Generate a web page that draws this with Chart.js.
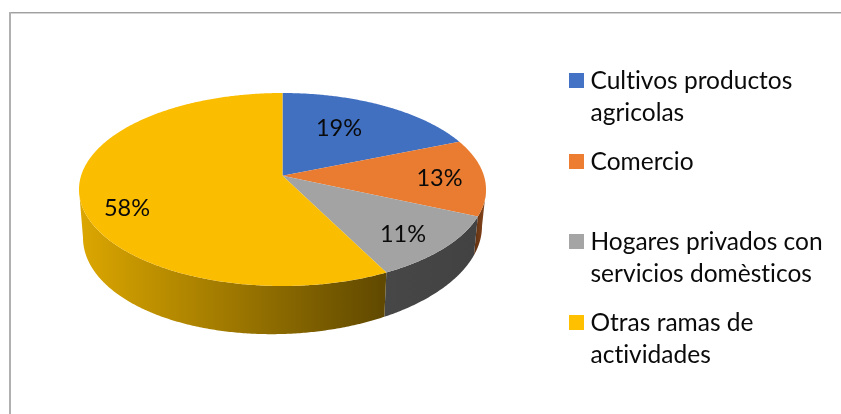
<!DOCTYPE html>
<html>
<head>
<meta charset="utf-8">
<style>
  html, body { margin: 0; padding: 0; background: #fff; }
  #wrap { position: relative; width: 841px; height: 414px; }
</style>
<script src="https://cdn.jsdelivr.net/npm/chart.js@4"></script>
</head>
<body>
<div id="wrap"><canvas id="pieChart" width="841" height="414"></canvas></div>
<script>
const categories = [
    ['Cultivos productos', 'agricolas'],
    ['Comercio'],
    ['Hogares privados con', 'servicios domèsticos'],
    ['Otras ramas de', 'actividades']
];
const shares = [19, 13, 11, 58];
const shareLabels = ['19%', '13%', '11%', '58%'];

const topColors = ['#4170C1', '#E97C31', '#A3A3A3', '#FBBD00'];
const legendColors = ['#4472C4', '#ED7D31', '#A5A5A5', '#FFC000'];
const wallLeft = ['#2a4675', '#5f2e0e', '#474747', '#DCA700'];
const wallRight = ['#2a4675', '#8a4a20', '#424242', '#5F4800'];

const FONT = 'Lato, sans-serif';

// la libreria calcula los angulos, aqui solo se proyectan en perspectiva
const squash = 96.5 / 203.5;
const apexShift = -0.143;
const wallShrink = 199.5 / 203.5;

function rimPoint(t) {
    const x = Math.sin(t);
    const y = -Math.cos(t);
    const d = 1 + apexShift * y;
    return {
        x: x * Math.sqrt(1 - apexShift * apexShift) / d,
        y: (y + apexShift) / d
    };
}

const pie3d = {
    id: 'pie3d',
    beforeDatasetsDraw(chart) {
        const ctx = chart.ctx;
        const arcs = chart.getDatasetMeta(0).data;
        const cx = arcs[0].x;
        const cy = arcs[0].y;
        const r = arcs[0].outerRadius;
        const ry = r * squash;
        const step = Math.PI / 360;

        const topXY = p => [cx + p.x * r, cy + p.y * ry];
        const baseXY = p => {
            const depth = 42.5 + 5.5 * p.y - 5.7 * p.x;
            return [cx + p.x * r * wallShrink, cy + p.y * ry + depth];
        };
        const tMin = Math.acos(apexShift);
        const tMax = 2 * Math.PI - tMin;

        arcs.forEach((arc, i) => {
            const t0 = arc.startAngle + Math.PI / 2;
            const t1 = arc.endAngle + Math.PI / 2;

            // pared lateral
            const from = Math.max(t0, tMin);
            const to = Math.min(t1, tMax);
            if (to > from) {
                const upper = [];
                const lower = [];
                for (let t = from; t < to; t += step) {
                    upper.push(topXY(rimPoint(t)));
                    lower.push(baseXY(rimPoint(t)));
                }
                upper.push(topXY(rimPoint(to)));
                lower.push(baseXY(rimPoint(to)));
                const xs = upper.concat(lower).map(q => q[0]);
                const g = ctx.createLinearGradient(Math.min(...xs), 0, Math.max(...xs), 0);
                g.addColorStop(0, wallLeft[i]);
                g.addColorStop(1, wallRight[i]);
                ctx.beginPath();
                upper.forEach((q, k) => k ? ctx.lineTo(q[0], q[1]) : ctx.moveTo(q[0], q[1]));
                lower.reverse().forEach(q => ctx.lineTo(q[0], q[1]));
                ctx.closePath();
                ctx.fillStyle = g;
                ctx.fill();
            }
        });

        arcs.forEach((arc, i) => {
            const t0 = arc.startAngle + Math.PI / 2;
            const t1 = arc.endAngle + Math.PI / 2;
            ctx.beginPath();
            ctx.moveTo(cx, cy + apexShift * ry);
            for (let t = t0; t < t1; t += step) {
                const q = topXY(rimPoint(t));
                ctx.lineTo(q[0], q[1]);
            }
            const end = topXY(rimPoint(t1));
            ctx.lineTo(end[0], end[1]);
            ctx.closePath();
            ctx.fillStyle = topColors[i];
            ctx.fill();
        });
        return false;
    },
    afterDraw(chart) {
        const ctx = chart.ctx;
        const opts = chart.options.plugins.pie3d;

        // marco
        ctx.fillStyle = '#d4d4d4';
        ctx.fillRect(11, 13, 830, 1);
        ctx.fillStyle = '#a0a0a0';
        ctx.fillRect(9, 12, 832, 1);
        ctx.fillStyle = '#b0b0b0';
        ctx.fillRect(9, 12, 2, 402);

        ctx.fillStyle = '#0a0a0a';
        ctx.textBaseline = 'alphabetic';

        ctx.font = opts.labelFont;
        ctx.textAlign = 'center';
        shareLabels.forEach((txt, i) => {
            ctx.fillText(txt, opts.labelAt[i][0], opts.labelAt[i][1]);
        });

        // letterSpacing minimo para que no salga la ligadura "ti" de Lato
        ctx.font = opts.legendFont;
        ctx.letterSpacing = '0.01px';
        ctx.textAlign = 'left';
        categories.forEach((lines, i) => {
            const y = opts.legendTop[i];
            ctx.fillStyle = legendColors[i];
            ctx.fillRect(569, y, 15, 15);
            ctx.fillStyle = '#0a0a0a';
            lines.forEach((line, k) => ctx.fillText(line, 590.5, y + 15.5 + k * 32.2));
        });
        ctx.letterSpacing = '0px';
    }
};

new Chart(document.getElementById('pieChart').getContext('2d'), {
    type: 'pie',
    data: {
        labels: categories,
        datasets: [{
            data: shares,
            backgroundColor: topColors,
            borderWidth: 0,
            radius: 203.5
        }]
    },
    options: {
        responsive: false,
        animation: false,
        layout: {
            padding: { left: 0, right: 276, top: 0, bottom: 35 }
        },
        plugins: {
            legend: { display: false },
            tooltip: { enabled: false },
            pie3d: {
                labelFont: '23.5px ' + FONT,
                legendFont: '24.5px ' + FONT,
                labelAt: [[339, 136], [439.5, 186], [403, 242], [127, 216]],
                legendTop: [73, 154, 234, 315]
            }
        }
    },
    plugins: [pie3d]
});
</script>
</body>
</html>
